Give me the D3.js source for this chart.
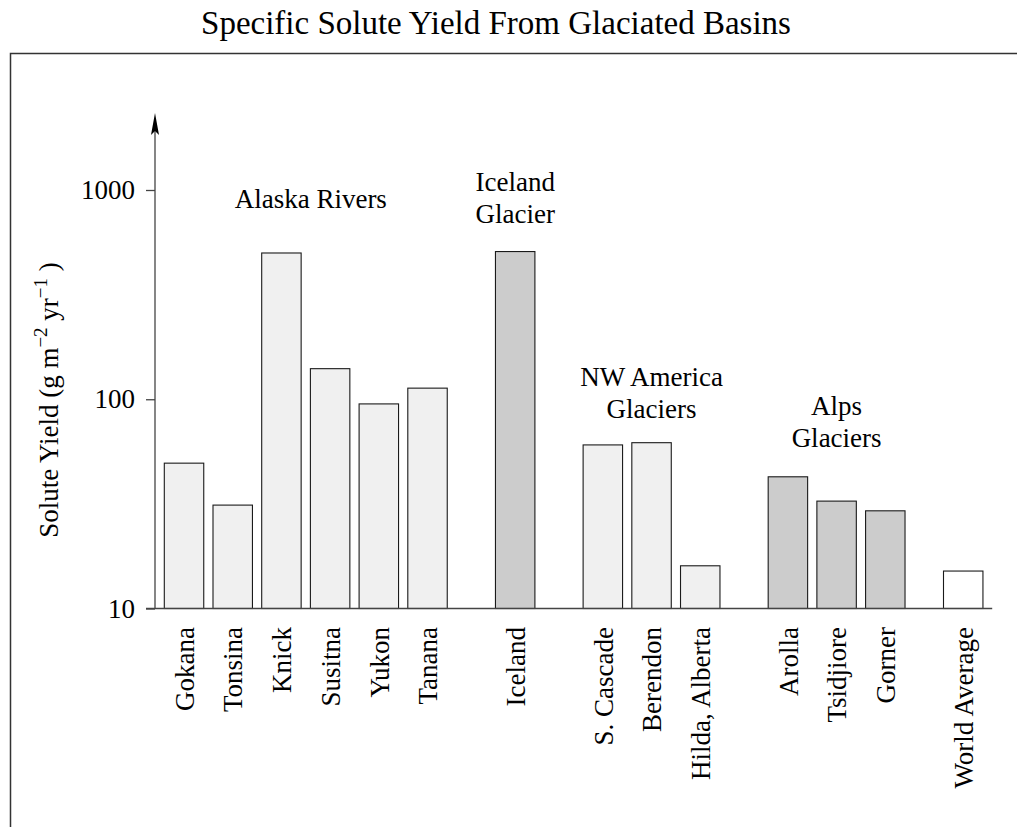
<!DOCTYPE html>
<html>
<head>
<meta charset="utf-8">
<script src="https://cdn.jsdelivr.net/npm/d3@7"></script>
<style>
  html, body { margin: 0; padding: 0; background: #fff; }
  svg { display: block; }
  text { font-family: "Liberation Serif", "Times New Roman", Times, serif; fill: #000; }
</style>
</head>
<body>
<svg id="chart" width="1017" height="827"></svg>
<script>
// ---- data ----
const categories = ["Gokana", "Tonsina", "Knick", "Susitna", "Yukon", "Tanana",
  "Iceland", "S. Cascade", "Berendon", "Hilda, Alberta",
  "Arolla", "Tsidjiore", "Gorner", "World Average"];
const values = [49.5, 31.2, 500, 140, 95, 113, 508, 60.5, 62, 16, 42.6, 32.6, 29.3, 15.1];
const groupOfBar = [0, 0, 0, 0, 0, 0, 1, 2, 2, 2, 3, 3, 3, 4];
const groupLabels = [["Alaska Rivers"], ["Iceland", "Glacier"], ["NW America", "Glaciers"], ["Alps", "Glaciers"], []];
const groupKind = ["light", "dark", "light", "dark", "plain"];
const yTickValues = [10, 100, 1000];
const titleText = "Specific Solute Yield From Glaciated Basins";

// ---- layout ----
const svg = d3.select("#chart");
const fills = { light: "#f0f0f0", dark: "#cccccc", plain: "#ffffff" };
const groupGapBefore = [0, 0.8, 1.6, 2.4, 3.0];   // extra slot space before each group
const barFrac = 0.81;
const labelBaseline = [208, 223, 418, 447];        // px baseline of last label line
const labelShift = [5, 0, 0, 0];

const x = d3.scaleLinear().domain([0, 1]).range([164.3, 213.0]);
const y = d3.scaleLog().domain([10, 1000]).range([608.5, 190]);
const slot = i => i + groupGapBefore[groupOfBar[i]];
const bw = x(barFrac) - x(0);

// frame
svg.append("path")
  .attr("d", "M10.5,827V53.5H1017")
  .attr("fill", "none").attr("stroke", "#333").attr("stroke-width", 1.5);

// title
svg.append("text")
  .attr("x", 496).attr("y", 34)
  .attr("text-anchor", "middle")
  .attr("font-size", 33)
  .text(titleText);

// bars
const bars = categories.map((c, i) => ({ c, v: values[i], i, g: groupOfBar[i] }));
svg.append("g").selectAll("rect").data(bars).join("rect")
  .attr("x", d => x(slot(d.i)))
  .attr("y", d => y(d.v))
  .attr("width", bw)
  .attr("height", d => y(10) - y(d.v))
  .attr("fill", d => fills[groupKind[d.g]])
  .attr("stroke", "#1a1a1a")
  .attr("stroke-width", 1.1);

// y axis (ticks + labels)
const axisX = 155;
const yAxis = d3.axisLeft(y).tickValues(yTickValues).tickFormat(d3.format("d"))
  .tickSize(9).tickPadding(11);
const ga = svg.append("g").attr("transform", `translate(${axisX},0)`).call(yAxis);
ga.select(".domain").remove();
ga.selectAll(".tick line").attr("stroke", "#444").attr("stroke-width", 1.3);
ga.selectAll(".tick text").attr("font-size", 27)
  .attr("font-family", "Liberation Serif, Times New Roman, serif")
  .attr("fill", "#000");

// vertical axis line with arrow
svg.append("line")
  .attr("x1", axisX).attr("x2", axisX)
  .attr("y1", y(10)).attr("y2", 125)
  .attr("stroke", "#444").attr("stroke-width", 1.3);
svg.append("path")
  .attr("d", `M${axisX},113L${axisX - 4},135L${axisX},131L${axisX + 4},135Z`)
  .attr("fill", "#000");

// baseline
const lastSlot = slot(categories.length - 1);
svg.append("line")
  .attr("x1", 146).attr("x2", x(lastSlot + 1))
  .attr("y1", y(10)).attr("y2", y(10))
  .attr("stroke", "#444").attr("stroke-width", 1.3);

// category labels (rotated)
svg.append("g").selectAll("text").data(bars).join("text")
  .attr("transform", d => `translate(${x(slot(d.i)) + bw / 2},627) rotate(-90)`)
  .attr("text-anchor", "end")
  .attr("dy", "0.36em")
  .attr("font-size", 27)
  .text(d => d.c);

// group labels
groupLabels.forEach((lines, g) => {
  if (!lines.length) return;
  const idx = bars.filter(b => b.g === g).map(b => b.i);
  const cx = (x(slot(d3.min(idx))) + x(slot(d3.max(idx))) + bw) / 2 + labelShift[g];
  const t = svg.append("text").attr("text-anchor", "middle").attr("font-size", 27);
  lines.forEach((ln, k) => {
    t.append("tspan")
      .attr("x", cx)
      .attr("y", labelBaseline[g] - (lines.length - 1 - k) * 32.5)
      .text(ln);
  });
});

// y-axis title
const yt = svg.append("text")
  .attr("transform", "translate(58,400) rotate(-90)")
  .attr("text-anchor", "middle")
  .attr("font-size", 27);
yt.append("tspan").text("Solute Yield (g m");
yt.append("tspan").attr("font-size", 19).attr("dy", -11).text("\u22122");
yt.append("tspan").attr("dy", 11).text(" yr");
yt.append("tspan").attr("font-size", 19).attr("dy", -11).text("\u22121");
yt.append("tspan").attr("dy", 11).text(" )");
</script>
</body>
</html>
